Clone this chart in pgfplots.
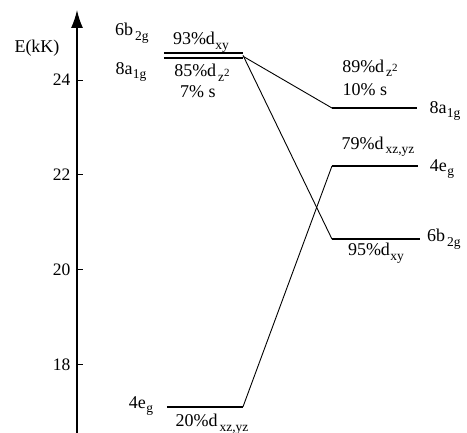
\documentclass[border=0pt]{standalone}
\usepackage{pgfplots}
\pgfplotsset{compat=1.18}
\usepackage{fontspec}
\setmainfont{Liberation Serif}
\usetikzlibrary{arrows.meta,calc}
\newcommand\sub[1]{\kern0.5pt\raisebox{-0.55ex}{\fontsize{13.5}{14}\selectfont #1}}
\newcommand\subs[1]{\kern2pt\raisebox{-0.55ex}{\fontsize{13.5}{14}\selectfont #1}}
\newcommand\dzz{d\subs{z\raisebox{0.85ex}{\fontsize{11}{11}\selectfont 2}}}
\tikzset{lbl/.style={font=\fontsize{18}{20}\selectfont, inner sep=0pt}}
\begin{document}
\begin{tikzpicture}
\begin{axis}[
  scale only axis, width=390pt, height=423pt,
  xmin=77, xmax=467, ymin=16.568, ymax=25.474,
  axis x line=none, axis y line=left,
  every outer y axis line/.style={line width=1.5pt, -{Latex[length=18pt,width=12pt]}},
  ytick={18,20,22,24}, yticklabels={18,20,22,24},
  tick align=inside, major tick length=6pt,
  ytick style={line width=1pt, black},
  yticklabel style={font=\fontsize{17.5}{20}\selectfont, xshift=-3pt},
  clip=false,
]
\coordinate (BL) at (rel axis cs:0,0);
% levels
\addplot[black, line width=1.8pt] coordinates {(164,24.57) (243,24.57)};
\addplot[black, line width=1.8pt] coordinates {(164,24.46) (243,24.46)};
\addplot[black, line width=1.8pt] coordinates {(167,17.12) (243,17.12)};
\addplot[black, line width=1.8pt] coordinates {(332,23.41) (417,23.41)};
\addplot[black, line width=1.8pt] coordinates {(332,22.19) (418,22.19)};
\addplot[black, line width=1.8pt] coordinates {(332,20.65) (420,20.65)};
% connectors
\addplot[black, line width=0.9pt] coordinates {(243,24.52) (332,20.65)};
\addplot[black, line width=0.9pt] coordinates {(243,24.50) (332,23.41)};
\addplot[black, line width=0.9pt] coordinates {(243,17.12) (332,22.19)};
% labels (x in px, y in energy)
\node[lbl] at (axis cs:37,24.67) {E(kK)};
\node[lbl] at (axis cs:132,24.98) {6b\subs{2g}};
\node[lbl] at (axis cs:131,24.17) {8a\sub{1g}};
\node[lbl] at (axis cs:201,24.80) {93\%d\sub{xy}};
\node[lbl] at (axis cs:202,24.15) {85\%\dzz};
\node[lbl] at (axis cs:198,23.75) {7\% s};
\node[lbl] at (axis cs:370,24.25) {89\%\dzz};
\node[lbl] at (axis cs:365,23.79) {10\% s};
\node[lbl] at (axis cs:445,23.35) {8a\sub{1g}};
\node[lbl] at (axis cs:378,22.6) {79\%d\subs{xz,yz}};
\node[lbl] at (axis cs:442,22.13) {4e\sub{g}};
\node[lbl] at (axis cs:444,20.65) {6b\subs{2g}};
\node[lbl] at (axis cs:376,20.35) {95\%d\sub{xy}};
\node[lbl] at (axis cs:141,17.14) {4e\sub{g}};
\node[lbl] at (axis cs:212,16.75) {20\%d\subs{xz,yz}};
\end{axis}
\pgfresetboundingbox
\path ($(BL)+(-77pt,0pt)$) rectangle ($(BL)+(390pt,433pt)$);
\end{tikzpicture}
\end{document}
